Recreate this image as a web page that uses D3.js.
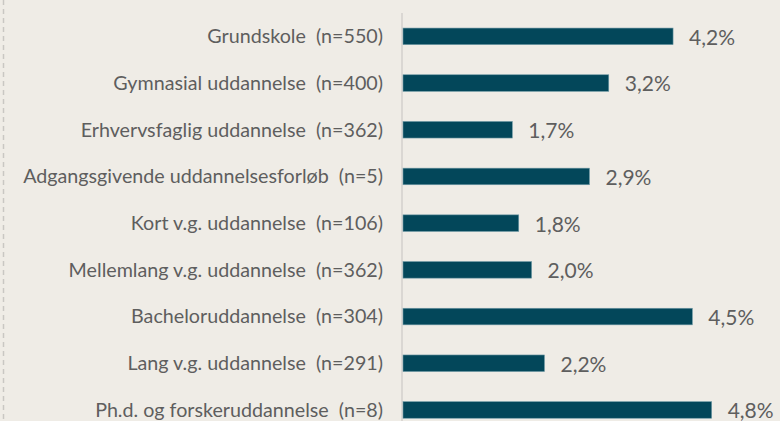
<!DOCTYPE html>
<html>
<head>
<meta charset="utf-8">
<script src="https://cdn.jsdelivr.net/npm/d3@7"></script>
<style>
  html, body { margin: 0; padding: 0; background: #efece6; }
  svg { display: block; }
  text { white-space: pre; }
</style>
</head>
<body>
<div id="chart"></div>
<script>
// Share (%) per education level, with respondent counts
const categories = [
  "Grundskole",
  "Gymnasial uddannelse",
  "Erhvervsfaglig uddannelse",
  "Adgangsgivende uddannelsesforløb",
  "Kort v.g. uddannelse",
  "Mellemlang v.g. uddannelse",
  "Bacheloruddannelse",
  "Lang v.g. uddannelse",
  "Ph.d. og forskeruddannelse"
];
const counts = [550, 400, 362, 5, 106, 362, 304, 291, 8];
const values = [4.2, 3.2, 1.7, 2.9, 1.8, 2.0, 4.5, 2.2, 4.8];

const W = 780, H = 421;
const axisX = 402;

const svg = d3.select("#chart").append("svg")
  .attr("width", W).attr("height", H);

svg.append("rect").attr("width", W).attr("height", H).attr("fill", "#efece6");

// dashed frame edge on the left
svg.append("line")
  .attr("x1", 3.5).attr("x2", 3.5).attr("y1", 0).attr("y2", H)
  .attr("stroke", "#c9c7c3").attr("stroke-width", 1.5)
  .attr("stroke-dasharray", "5,4");

const rows = categories.map((c, i) => ({ label: `${c}  (n=${counts[i]})`, value: values[i] }));

const y = d3.scaleBand()
  .domain(rows.map(d => d.label))
  .range([13, 13 + 46.7 * rows.length])
  .paddingInner(0.645).paddingOuter(0.3225);

const x = d3.scaleLinear().domain([0, 5]).range([axisX + 1, axisX + 1 + 64.3 * 5]);

// category axis line
svg.append("line")
  .attr("x1", axisX).attr("x2", axisX).attr("y1", 13).attr("y2", H)
  .attr("stroke", "#d3d1cd").attr("stroke-width", 1.5);

// bars
svg.append("g").selectAll("rect").data(rows).join("rect")
  .attr("x", x(0))
  .attr("y", d => y(d.label))
  .attr("width", d => x(d.value) - x(0))
  .attr("height", y.bandwidth())
  .attr("fill", "#03475a")
  .attr("stroke", "#6f9aa6").attr("stroke-width", 0.6);

// category labels
svg.append("g").selectAll("text").data(rows).join("text")
  .attr("x", 383)
  .attr("y", d => y(d.label) + y.bandwidth() / 2)
  .attr("dy", "0.35em")
  .attr("text-anchor", "end")
  .attr("font-family", "Lato, 'Open Sans', sans-serif")
  .attr("font-size", 19.7)
  .attr("fill", "#5e5e5e")
  .text(d => d.label);

// value labels
const fmt = v => v.toFixed(1).replace(".", ",") + "%";
svg.append("g").selectAll("text").data(rows).join("text")
  .attr("x", d => x(d.value) + 16)
  .attr("y", d => y(d.label) + y.bandwidth() / 2 + 1)
  .attr("dy", "0.35em")
  .attr("font-family", "Lato, 'Open Sans', sans-serif")
  .attr("font-size", 21)
  .attr("fill", "#5e5e5e")
  .text(d => fmt(d.value));
</script>
</body>
</html>
